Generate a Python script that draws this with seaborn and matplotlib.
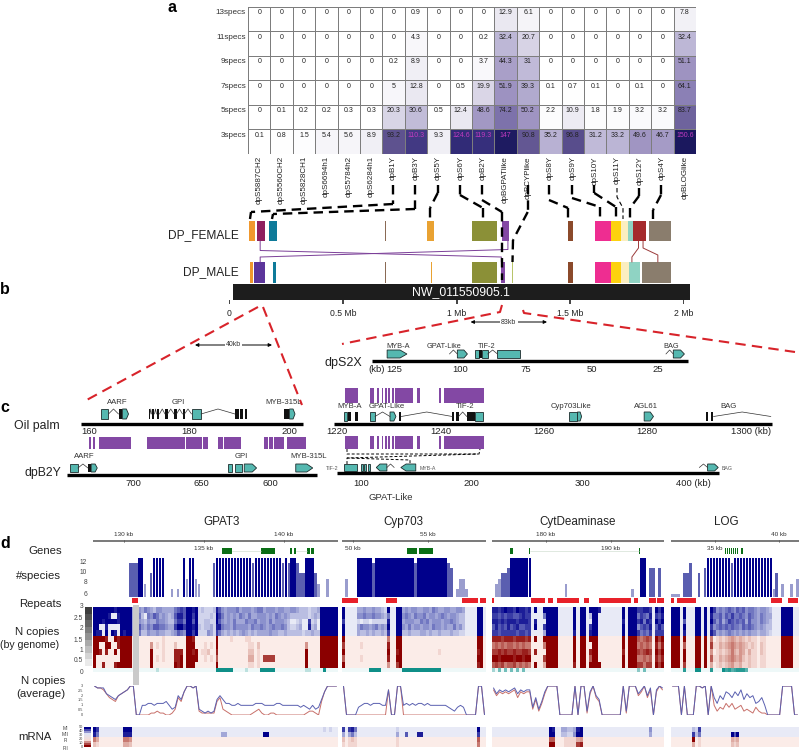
import numpy as np
import pandas as pd
import seaborn as sns
import matplotlib.pyplot as plt
from matplotlib.colors import LinearSegmentedColormap as LSC
from matplotlib.patches import Rectangle, Polygon

W, H = 799, 751
sns.set_theme(style="white")
plt.rcParams['font.family'] = ['Liberation Sans', 'DejaVu Sans']

# panel a
spec_rows = ["13specs", "11specs", "9specs", "7specs", "5specs", "3specs"]
spec_cols = ["dpS5887CH2", "dpS5560CH2", "dpS5828CH1", "dpS6694h1", "dpS5784h2", "dpS6284h1", "dpB1Y", "dpB3Y",
             "dpS5Y", "dpS6Y", "dpB2Y", "dpBGPATlike", "dpBCYPlike", "dpS8Y", "dpS9Y", "dpS10Y", "dpS11Y",
             "dpS12Y", "dpS4Y", "dpBLOGlike"]
specs13 = [0, 0, 0, 0, 0, 0, 0, 0.9, 0, 0, 0, 12.9, 6.1, 0, 0, 0, 0, 0, 0, 7.8]
specs11 = [0, 0, 0, 0, 0, 0, 0, 4.3, 0, 0, 0.2, 32.4, 20.7, 0, 0, 0, 0, 0, 0, 32.4]
specs9 = [0, 0, 0, 0, 0, 0, 0.2, 8.9, 0, 0, 3.7, 44.3, 31, 0, 0, 0, 0, 0, 0, 51.1]
specs7 = [0, 0, 0, 0, 0, 0, 5, 12.8, 0, 0.5, 19.9, 51.9, 39.3, 0.1, 0.7, 0.1, 0, 0.1, 0, 64.1]
specs5 = [0, 0.1, 0.2, 0.2, 0.3, 0.3, 20.3, 30.6, 0.5, 12.4, 48.6, 74.2, 50.2, 2.2, 10.9, 1.8, 1.9, 3.2, 3.2, 83.7]
specs3 = [0.1, 0.8, 1.5, 5.4, 5.6, 8.9, 93.2, 110.3, 9.3, 124.6, 119.3, 147, 90.8, 35.2, 96.8, 31.2, 33.2, 49.6, 46.7, 150.6]

# panel b, features in Mb
female_bars = [(.086, .115, '#f0982e'), (.125, .160, '#8e1f5f'), (.174, .209, '#0e7a99'), (.687, .692, '#8a6a55'),
               (.870, .899, '#e9a232'), (1.069, 1.178, '#8b9037'), (1.198, 1.229, '#8348a4'), (1.491, 1.513, '#8b4a2b'),
               (1.609, 1.681, '#ee2d91'), (1.681, 1.723, '#fdd20e'), (1.723, 1.755, '#fbeec0'), (1.755, 1.775, '#8fd3c3'),
               (1.777, 1.831, '#a52a2c'), (1.846, 1.945, '#8a7d6d')]
male_bars = [(.092, .104, '#f0982e'), (.112, .160, '#5c359b'), (.194, .207, '#0e7a99'), (.687, .692, '#8a6a55'),
             (.887, .892, '#e9a232'), (1.069, 1.178, '#8b9037'), (1.196, 1.212, '#8348a4'), (1.243, 1.247, '#b8c46a'),
             (1.491, 1.513, '#8b4a2b'), (1.609, 1.681, '#ee2d91'), (1.681, 1.723, '#fdd20e'), (1.723, 1.757, '#fbeec0'),
             (1.757, 1.806, '#8fd3c3'), (1.814, 1.945, '#8a7d6d')]
chrom_ticks = [0, 0.5, 1, 1.5, 2]
chrom_labels = ["0", "0.5 Mb", "1 Mb", "1.5 Mb", "2 Mb"]

# dpS2X, kb
s2x_ticks = [125, 100, 75, 50, 25]
s2x_genes = [(127.6, 120.1, 'pent'), (104, 101, 'intron'), (101, 97.2, 'pent'), (94.5, 92.8, 'box'), (92.8, 91.5, 'exon'),
             (91.5, 89.5, 'box'), (89.5, 85.8, 'intron'), (85.8, 77.1, 'box'), (22, 19.2, 'intron'), (19.2, 15, 'pent')]
s2x_names = [("MYB-A", 123.5), ("GPAT-Like", 106), ("TIF-2", 90), ("BAG", 20)]

# panel c, kb
oil_l_ticks = [160, 180, 200]
oil_r_ticks = [1220, 1240, 1260, 1280]
b2y_l_ticks = [700, 650, 600]
b2y_r_ticks = [100, 200, 300]
oil_l_genes = [(162.3, 163.9, 'box'), (163.9, 165.9, 'intron'), (165.9, 166.6, 'exon'), (166.7, 167.9, 'pent'),
               (171.9, 172.2, 'exon'), (172.2, 172.5, 'intron'), (172.5, 173.1, 'exon'), (173.1, 173.5, 'intron'),
               (173.5, 174.1, 'exon'), (174.1, 175.2, 'intron'), (175.2, 175.7, 'exon'), (175.7, 177, 'intron'),
               (177, 177.5, 'exon'), (177.5, 178.7, 'intron'), (178.7, 179.1, 'exon'), (179.1, 180.5, 'intron'),
               (180.5, 182.4, 'box'), (182.4, 189.2, 'intron'), (189.2, 189.9, 'exon'), (190.2, 190.7, 'exon'),
               (191.1, 191.6, 'exon'), (198.9, 200.1, 'exon'), (200.1, 201.2, 'pent')]
oil_r_genes = [(1221.35, 1222, 'box'), (1222.2, 1222.8, 'exon'), (1223.5, 1224.1, 'exon'), (1226.4, 1227.35, 'box'),
               (1227.35, 1230.25, 'intron'), (1230.25, 1231.4, 'pent'), (1232, 1232.4, 'exon'), (1232.4, 1242.3, 'intron'),
               (1242.3, 1242.7, 'exon'), (1243, 1243.5, 'exon'), (1243.5, 1245.1, 'intron'), (1245.1, 1246.6, 'exon'),
               (1246.6, 1248.3, 'box'), (1264.9, 1266.35, 'box'), (1266.35, 1266.5, 'exon'), (1266.5, 1267.3, 'pent'),
               (1279.4, 1281.2, 'pent'), (1291.3, 1291.8, 'exon'), (1292.3, 1292.8, 'exon'), (1292.8, 1303.9, 'intron'),
               (1303.9, 1304, 'exon')]
b2y_l_genes = [(746.3, 740.2, 'box'), (740.2, 732.9, 'intron'), (732.9, 730.5, 'exon'), (730.5, 726.1, 'pent'),
               (630.5, 627.6, 'box'), (625.6, 620.2, 'box'), (618.8, 609.8, 'pent'), (581.2, 568.8, 'pent')]
b2y_r_genes = [(85, 96.4, 'box'), (100, 101.8, 'box'), (103, 104.8, 'box'), (106, 108.4, 'box'), (123.4, 113.8, 'pent'),
               (123.4, 130, 'intron'), (149.5, 136, 'pent'), (405.7, 413.2, 'intron'), (413.2, 422.8, 'pent')]
oil_l_names = [("AARF", 165.6), ("GPI", 177.8), ("MYB-315L", 199)]
oil_r_names = [("MYB-A", 1222.5), ("GPAT-Like", 1229.7), ("TIF-2", 1244.8), ("Cyp703Like", 1265.3), ("AGL61", 1279.8), ("BAG", 1295.8)]
b2y_l_names = [("AARF", 735.4), ("GPI", 620.7), ("MYB-315L", 572)]
b2y_r_small = [("TIF-2", 73.9), ("MYB-A", 160), ("BAG", 431.2)]
purple_left = [(160, 160.4), (160.73, 161.2), (162.07, 168.47), (171.53, 179.2), (179.4, 182.53), (182.73, 183.8),
               (185.8, 186.87), (187.07, 190.33), (195.07, 195.73), (195.93, 196.73), (197.07, 199.07), (199.53, 203.4)]
purple_right = [(1221.55, 1224.1), (1226.4, 1227.15), (1227.7, 1228.2), (1228.64, 1228.96), (1229.28, 1229.6),
                (1229.9, 1230.25), (1230.57, 1231), (1231.2, 1234.75), (1235.4, 1236.05), (1239.8, 1240.05),
                (1240.7, 1248.4), (1291.3, 1291.45)]

# panel d, one character per bin (hex), spaces only to keep the columns readable
sec_names = ["GPAT3", "Cyp703", "CytDeaminase", "LOG"]
sec_bins = [82, 48, 57, 43]

gpat_species = "000000000000 ccc dd 8 0 a dddd 00 7 0 7 0 d 9 dd 9 8 0000 c ddddddddddddcdddddddddcd c dd c aa ddd a 8 00 9 000"
cyp_species = "0 9 000 dddddcdddddddddddddcdddddddddd cb 0 7997 000"
cyt_species = "0 89 aab ddddddd 00000000000 8 000000000000000000000 7 00 dd 0 bb 0 b 0"
log_species = "666 0 aa c 00 a 0 b ddddddddcddddddddddddd 7 a 0 8 00 8 0 9"

gpat_blue = ["9999999899999 33 43543244333 35676 9989 121112 86 434445344434553444344334432221223 999999",
             "9999980089999 33 52054653432 36886 9979 111121 97 534343543533444343543432222221232 999999",
             "9998999989999 33 43243354432 25775 9969 112211 96 434353335445344353444320012007120 999999",
             "9900800009999 33 64354665543 37997 9989 212231 88 544354444354454345445421123008230 999999",
             "9880909809899 33 52243343322 34654 9979 111431 75 323232343232333343322322222122322 999999"]
gpat_red = ["9999800989999 00 00000000100 00000 9980 000000 90 000100001100000000000000000000000 999999",
            "9900990089999 00 00004010100 02000 9990 001010 90 000000000110200000000000000040000 999999",
            "9980800909999 00 00009000100 08880 9989 011200 80 000000000220100000000000000090000 999999",
            "9000000009999 00 00009010100 08890 9999 001010 60 000000000330107777000000000090000 999999",
            "9008000899999 00 00009000000 09890 9990 000000 90 000000000110100000000000000090000 999999"]
gpat_teal = "0000000000000 00 00000020000 00000 0000 000000 99 999900002000099999000000000022000 090000"
gpat_avg_blue = "feeeba98abcdf f0 05566566675 34a8c ffef 321212 8a 866556555556665555665555554543534 8cffff"
gpat_avg_red = "feedb987abcdf f0 00001121100 1397c ffef 211111 79 321000000012310011000000000012210 7cffff"
gpat_rna = ["9700000000999 00 00000000000 00000 0000 000000 00 000000000000000000000000000000000 010100",
            "8500000000888 00 00000000000 00000 0000 000000 00 330000000000009900000000000000000 000000",
            "5300000000554 00 00000000000 00000 0000 000000 00 000000000000000000000000000000000 000000",
            "2100000000332 00 00000000000 00000 0000 000000 00 000000000000000000000000000000000 000000"]

cyp_blue = ["9 0000 3343343321 9 00 99 343443344354334433443 0000 99 0",
            "9 0000 4454454432 5 00 99 454354453443454344322 0000 99 0",
            "7 0000 1011011111 8 00 99 344433545344434454322 0000 99 0",
            "9 0000 3544345343 9 00 99 435344344354434335342 0000 99 0",
            "9 0000 3223232232 7 00 99 223222332322322232211 0000 99 0"]
cyp_red = ["9 0000 0000000000 5 00 99 000000000000000000000 0000 99 0",
           "7 0000 0100000000 8 00 99 000000000000000000000 0000 99 0",
           "9 0000 0000000000 9 00 89 000000000000100000000 0000 89 0",
           "6 0000 0100000000 8 00 99 000000000000000000000 0000 99 0",
           "9 0000 0000000000 4 00 79 000000000000000000000 0000 89 0"]
cyp_teal = "0 0000 0000999900 0 00 00 999999999999900000000 0000 00 0"
cyp_avg_blue = "f 0000 4566566655 d 00 ff 565656656555555432454 0000 ff 0"
cyp_avg_red = "f 0000 0000000000 d 00 ff 000000000000000000000 0000 ff 0"
cyp_rna = ["7 0785 0000000000 0 00 10 000000000000000000000 0000 90 0",
           "3 0352 0000000000 0 00 30 060008800000000000000 0000 70 0",
           "2 0121 0000000000 0 00 10 000000000000000000000 0000 60 0",
           "1 0111 0000000000 0 00 10 000000000000000000000 0000 50 0"]

cyt_blue = ["8878988798878 0 9 00 99 999 00000 9 0 99 0 9998 0000000 9 0 999 77887 0 979",
            "7767677667877 0 0 00 59 999 00000 9 0 99 0 2990 0000000 9 0 999 57658 0 768",
            "8878788878887 0 8 00 09 999 00000 9 0 99 0 0990 0000000 8 0 999 78587 0 979",
            "6867686786677 0 9 00 79 999 00000 9 0 99 0 7990 0000000 9 0 999 46768 0 686",
            "7767777767767 0 0 00 39 999 00000 8 0 99 0 8990 0000000 9 0 999 75657 0 777"]
cyt_red = ["8887888788878 0 9 00 99 999 00000 9 0 99 0 9990 0000000 9 0 999 65676 0 979",
           "5656566565655 0 0 00 59 999 00000 9 0 99 0 0990 0000000 9 0 999 56565 0 858",
           "7787877877887 0 8 00 09 999 00000 9 0 99 0 8990 0000000 8 0 999 76787 0 979",
           "9989999899899 0 0 00 79 999 00000 9 0 99 0 6990 0000000 9 0 999 55656 0 868",
           "6767566756565 0 9 00 39 999 00000 8 0 99 0 9999 0000000 9 0 999 77577 0 979"]
cyt_teal = "3050505050500 0 0 00 00 000 00000 0 0 00 0 0000 0000000 0 0 000 40500 0 000"
cyt_avg_blue = "ebdcdcdebdcdd 4 9 37 cf fff 00000 f 0 ff 2 cfa8 0000000 f 2 fff bdfae 0 dfe"
cyt_avg_red = "dacbcbcd9cbcc 3 8 26 bf fff 00000 f 0 ff 1 bf97 0000000 f 1 fff acf9d 0 cfd"
cyt_rna = ["0000000000000 0 0 00 00 980 03322 3 8 90 0 0000 0000000 0 0 000 00004 0 000",
           "0000000000000 0 0 00 00 990 02211 4 9 90 0 0000 0000000 0 0 000 00003 0 000",
           "0000000000000 0 0 00 00 660 00111 1 3 40 0 0000 0000000 0 0 000 00000 0 000",
           "0000000000000 0 0 00 00 990 00111 1 7 80 0 0000 0000000 0 0 000 00000 0 000"]

log_blue = ["999 0 9 000 9909 0 97 4545654656455434432 000 9999 00",
            "999 0 9 000 9909 0 85 5646575565465435433 000 9999 00",
            "999 0 6 000 9909 0 96 4635765656364435432 000 9999 00",
            "999 0 9 000 9909 0 74 5656565546565434322 000 9999 00",
            "999 0 8 000 9909 0 86 3434543434343323321 000 9999 00"]
log_red = ["999 0 9 000 9909 0 50 1212343232121101100 000 9999 00",
           "999 0 6 000 9909 0 71 1323454343212102100 000 9999 00",
           "999 0 9 000 9909 0 40 1212353243131102100 000 9999 00",
           "999 0 9 000 9909 0 61 1323454342121101100 000 9999 00",
           "999 0 7 000 9909 0 30 1212342231121101100 000 9999 00"]
log_teal = "000 0 8 000 9900 0 80 0097867888600000000 000 0000 00"
log_avg_blue = "fff 0 f 000 ffef 0 f9 6a8cb9cad8b9a679500 000 ffff 00"
log_avg_red = "fff 0 f 000 ffef 0 f5 2436463452321421100 000 ffff 00"
log_rna = ["000 0 0 002 1700 0 00 0000000000000000000 000 0000 00",
           "000 0 0 007 2500 0 00 0000096900000000000 000 0000 00",
           "000 0 0 009 0100 0 00 0000032300000000000 000 0000 00",
           "000 0 0 003 0100 0 00 0000021200000000000 000 0000 00"]

sec_species = [gpat_species, cyp_species, cyt_species, log_species]
sec_blue = [gpat_blue, cyp_blue, cyt_blue, log_blue]
sec_red = [gpat_red, cyp_red, cyt_red, log_red]
sec_teal = [gpat_teal, cyp_teal, cyt_teal, log_teal]
sec_avg_blue = [gpat_avg_blue, cyp_avg_blue, cyt_avg_blue, log_avg_blue]
sec_avg_red = [gpat_avg_red, cyp_avg_red, cyt_avg_red, log_avg_red]
sec_rna = [gpat_rna, cyp_rna, cyt_rna, log_rna]

# in bin units
sec_repeats = [[(13, 15)],
               [(0, 5.4), (14.6, 18.4), (40.1, 45.2), (46, 48)],
               [(0, 0.6), (13, 17.7), (18.6, 20.1), (21.6, 28.9), (30.4, 32.2), (35.4, 46), (47.1, 48.4), (52.1, 54.3), (54.7, 57)],
               [(0, 1), (1.9, 8.3), (33.6, 37.2), (39.3, 42.7)]]
sec_genes = [[(43.3, 46.4), (56.1, 60.9), (65.8, 66.7), (67.2, 68), (71.7, 72.6), (73.1, 73.9)],
             [(21.6, 25.1), (25.8, 30.4)],
             [(6, 7.1), (12.1, 12.7), (48.6, 49.1)],
             [(18, 18.4), (18.7, 19.1), (19.4, 19.8), (20.1, 20.5), (20.8, 21.2), (21.5, 21.9), (22.2, 22.6), (23.6, 24.3)]]
sec_gene_links = [[(46.4, 56.1), (68, 71.7)], [], [(12.7, 48.6)], []]
ruler_kb = [(128.06, 143.375), (49.27, 58.87), (171.7, 198.15), (31.56, 41.56)]
ruler_ticks = [[(130, "130 kb", 0), (135, "135 kb", 1), (140, "140 kb", 0)], [(50, "50 kb", 1), (55, "55 kb", 0)],
               [(180, "180 kb", 0), (190, "190 kb", 1)], [(35, "35 kb", 1), (40, "40 kb", 0)]]
ncopy_ticks = ["3", "2.5", "2", "1.5", "1", "0.5", "0"]
species_ticks = [12, 10, 8, 6]
rna_ticks = ["50", "40", "30", "20", "10", "0"]
rna_samples = ["MI", "MII", "FI", "FII"]
grey_levels = [9, 8, 7, 6, 5, 4, 3, 2, 1, 0]
rna_levels = [9, 7, 5, 3, 1, -1, -3, -5, -7, -9]

fig = plt.figure(figsize=(W / 100, H / 100), dpi=100)


def box(x0, y0, x1, y1):
    ax = fig.add_axes([x0 / W, 1 - y1 / H, (x1 - x0) / W, (y1 - y0) / H])
    ax.patch.set_visible(False)
    return ax


def track(px_a, val_a, px_b, val_b):
    # x in data units, y in picture rows
    ax = box(px_a, 0, px_b, H)
    ax.set_xlim(val_a, val_b)
    ax.set_ylim(H, 0)
    ax.axis('off')
    return ax


def span(ax, a, b, y0, y1, color, **kw):
    ax.add_patch(Rectangle((a, y0), b - a, y1 - y0, facecolor=color, edgecolor='none', clip_on=False, **kw))


def gene(ax, a, b, y0, y1, kind):
    teal = '#55b8b0'
    if kind == 'exon':
        span(ax, a, b, y0, y1, '#111111')
    elif kind == 'box':
        ax.add_patch(Rectangle((a, y0), b - a, y1 - y0, fc=teal, ec='#1c2b2b', lw=0.6, clip_on=False))
    elif kind == 'pent':
        sh = a + 0.65 * (b - a)
        ax.add_patch(Polygon([(a, y0), (sh, y0), (b, (y0 + y1) / 2), (sh, y1), (a, y1)], fc=teal, ec='#1c2b2b', lw=0.6, clip_on=False))
    else:
        ax.plot([a, (a + b) / 2, b], [(y0 + y1) / 2, y0, (y0 + y1) / 2], color='#333333', lw=0.5, clip_on=False)


def hexrow(s, n):
    s = s.replace(' ', '')
    return [int(c, 16) for c in s.ljust(n, '0')[:n]]


# ---- a
cells = pd.DataFrame([specs13, specs11, specs9, specs7, specs5, specs3], index=spec_rows, columns=spec_cols)
purple_map = LSC.from_list("spec", [(0, '#ffffff'), (13 / 151, '#e9e7f0'), (32 / 151, '#bdb7d6'), (52 / 151, '#9c91c0'),
                                    (74 / 151, '#7d72ab'), (93 / 151, '#5f538f'), (115 / 151, '#3a3280'), (1, '#1b185e')])
ax = box(248, 6.5, 696, 154)
sns.heatmap(cells, ax=ax, cmap=purple_map, vmin=0, vmax=151, cbar=False, annot=True, fmt='g', linewidths=0.6, linecolor='#7d7d7d',
            annot_kws={'fontsize': 5, 'color': '#222222'})
for t, v in zip(ax.texts, cells.values.ravel()):
    t.set_y(t.get_position()[1] - 0.25)
    if v >= 110:
        t.set_color('#c23ac0')
ax.set_xlabel('')
ax.set_ylabel('')
ax.set_yticks(np.arange(6) + 0.25, spec_rows, rotation=0, fontsize=5.9, color='#333333')
ax.set_xticks(np.arange(20) + 0.5, spec_cols, rotation=90, fontsize=5.8, color='#222222')
ax.tick_params(length=0, pad=1.5)

# ---- b
mb = track(229, 0, 684, 2)
span(mb, 0.016, 2.026, 284, 300, '#1d1d1d')
for a, b, c in female_bars:
    span(mb, a, b, 221, 241, c)
for a, b, c in male_bars:
    span(mb, a, b, 262, 283, c)
mb.vlines(chrom_ticks, 300, 304, color='#222222', lw=1.2)
for v, s in zip(chrom_ticks, chrom_labels):
    mb.text(v, 313, s, fontsize=6.2, ha='center', va='center', color='#222222', clip_on=False)
mb.text(1.02, 292, "NW_011550905.1", color='white', fontsize=8.8, ha='center', va='center')
mb.plot([.137, .137, 1.197, 1.197], [241, 250.5, 257, 262], color='#7b3f98', lw=0.7)
mb.plot([.137, .137, 1.226, 1.226], [262, 257, 249.5, 241], color='#7b3f98', lw=0.7)
mb.plot([1.80, 1.80, 1.771, 1.771], [241, 248, 257, 262], color='#9b3a3a', lw=0.7)
mb.plot([1.82, 1.82, 1.885, 1.885], [241, 248, 255, 262], color='#9b3a3a', lw=0.7)

s2x = track(394, 125, 658, 25)
s2x.plot([133.3, 13.8], [360.7, 360.7], color='black', lw=2.4, solid_capstyle='butt', clip_on=False)
for a, b, k in s2x_genes:
    gene(s2x, a, b, 350, 358, k)
for v in s2x_ticks:
    s2x.text(v, 370, str(v), fontsize=6.8, ha='center', va='center', color='#222222')
for s, v in s2x_names:
    s2x.text(v, 346, s, fontsize=5.3, ha='center', va='center', color='#333333')

# ---- c
oil_l = track(89, 160, 289, 200)
oil_r = track(337, 1220, 750.7, 1300)
b2y_l = track(133, 700, 270, 600)
b2y_r = track(361, 100, 693, 400)
for tr, lo, hi, y in [(oil_l, 158.3, 202.8, 424), (oil_r, 1219.4, 1304.2, 424), (b2y_l, 748.3, 565.9, 475), (b2y_r, 78.4, 423.1, 473)]:
    tr.plot([lo, hi], [y, y], color='black', lw=2.4, solid_capstyle='butt', clip_on=False)
for a, b in purple_left:
    span(oil_l, a, b, 437, 449, '#8348a4')
for a, b in purple_right:
    span(oil_r, a, b, 388, 403, '#8348a4')
    span(oil_r, a, b, 436, 449, '#8348a4')
for a, b, k in oil_l_genes:
    gene(oil_l, a, b, 409, 419, k)
for a, b, k in oil_r_genes:
    gene(oil_r, a, b, 412, 421, k)
for a, b, k in b2y_l_genes:
    gene(b2y_l, a, b, 464, 472, k)
for a, b, k in b2y_r_genes:
    gene(b2y_r, a, b, 464, 471, k)
for tr, ticks, y in [(oil_l, oil_l_ticks, 432), (oil_r, oil_r_ticks, 432), (b2y_l, b2y_l_ticks, 484), (b2y_r, b2y_r_ticks, 484)]:
    for v in ticks:
        tr.text(v, y, str(v), fontsize=6.8, ha='center', va='center', color='#222222', clip_on=False)
oil_r.text(1300, 432, "1300 (kb)", fontsize=6.8, ha='center', va='center', color='#222222')
b2y_r.text(400, 484, "400 (kb)", fontsize=6.8, ha='center', va='center', color='#222222')
for tr, names, y in [(oil_l, oil_l_names, 402), (oil_r, oil_r_names, 407), (b2y_l, b2y_l_names, 457)]:
    for s, v in names:
        tr.text(v, y, s, fontsize=5.6, ha='center', va='center', color='#333333', clip_on=False)
for s, v in b2y_r_small:
    b2y_r.text(v, 469, s, fontsize=3.8, ha='center', va='center', color='#555555', clip_on=False)
b2y_r.text(127, 497, "GPAT-Like", fontsize=6.8, ha='center', va='center', color='#333333')

# ---- d
blue_map = LSC.from_list("b", ['#e8eaf6', '#7f86c8', '#00008b'])
red_map = LSC.from_list("r", ['#fbece8', '#d08a80', '#8b0000'])
teal_map = LSC.from_list("t", ['#eef8f8', '#0f8f88'])
grey_map = LSC.from_list("g", ['#ffffff', '#3c3c3c'])
rna_map = LSC.from_list("rb", ['#8b0000', '#f5dcd6', '#dfe2f3', '#00008b'])
sec_px = [(93, 338), (342, 486), (492, 664), (671, 799)]
titles_x = [222, 403, 578, 726]


def strip(x0, y0, x1, y1, rows, cmap, n, vmax=9):
    a = box(x0, y0, x1, y1)
    sns.heatmap(np.array([hexrow(r, n) for r in rows]), ax=a, cmap=cmap, vmin=0, vmax=vmax, cbar=False,
                xticklabels=False, yticklabels=False, linewidths=0, rasterized=True)
    a.axis('off')


for i, name in enumerate(sec_names):
    x0, x1 = sec_px[i]
    n = sec_bins[i]
    xs = np.arange(n) + 0.5

    ax = track(x0, 0, x1, n)
    for a, b in sec_genes[i]:
        span(ax, a, b, 548, 553.5, '#0a6e16')
    for a, b in sec_gene_links[i]:
        ax.plot([a, b], [551, 551], color='#c8d8c8', lw=0.4)
    for a, b in sec_repeats[i]:
        span(ax, a, b, 598, 602.5, '#e8212a')

    ax = box(x0, 557, x1, 596.5)
    vals = np.array(hexrow(sec_species[i], n))
    cols = ['#00008b' if v >= 13 else '#5a5eb0' if v >= 10 else '#9a9dce' for v in vals]
    ax.bar(xs, vals, width=0.8, color=cols, linewidth=0)
    ax.set_xlim(0, n)
    ax.set_ylim(5.5, 13.2)
    ax.axis('off')

    strip(x0, 607, x1, 636, sec_blue[i], blue_map, n)
    strip(x0, 636, x1, 668.3, sec_red[i], red_map, n)
    strip(x0, 668.3, x1, 672.3, [sec_teal[i]], teal_map, n)

    ax = box(x0, 686, x1, 715)
    avg = pd.DataFrame({'pos': xs, 'blue': np.array(hexrow(sec_avg_blue[i], n)) * 0.2, 'red': np.array(hexrow(sec_avg_red[i], n)) * 0.2})
    sns.lineplot(data=avg, x='pos', y='red', ax=ax, color='#c8706a', lw=0.7, legend=False)
    sns.lineplot(data=avg, x='pos', y='blue', ax=ax, color='#5a60b0', lw=0.7, legend=False)
    ax.set_xlim(0, n)
    ax.set_ylim(0, 3)
    ax.axis('off')

    strip(x0, 727, x1, 737, sec_rna[i][:2], blue_map, n)
    strip(x0, 737, x1, 747, sec_rna[i][2:], red_map, n)

    ax = track(x0, ruler_kb[i][0], x1, ruler_kb[i][1])
    ax.plot(ruler_kb[i], [541, 541], color='#555555', lw=1.1)
    for v, s, low in ruler_ticks[i]:
        ax.plot([v, v], [540, 542], color='#555555', lw=0.5)
        ax.text(v, 549 if low else 535, s, fontsize=4.6, ha='center', va='center', color='#333333', clip_on=False)

a = box(85, 607, 91.5, 672)
sns.heatmap(np.array(grey_levels)[:, None], ax=a, cmap=grey_map, cbar=False, xticklabels=False, yticklabels=False)
a.axis('off')
a = box(84, 727, 90.5, 747)
sns.heatmap(np.array(rna_levels)[:, None], ax=a, cmap=rna_map, cbar=False, xticklabels=False, yticklabels=False)
a.axis('off')

# ---- text, connectors, on top of everything
ov = fig.add_axes([0, 0, 1, 1], zorder=10)
ov.set_xlim(0, W)
ov.set_ylim(H, 0)
ov.axis('off')


def label(x, y, s, size, ha='center', color='#222222', **kw):
    ov.text(x, y, s, fontsize=size, ha=ha, va='center', color=color, **kw)


for s, x, y in [("a", 172, 7), ("b", 5, 290), ("c", 5, 408), ("d", 5, 543)]:
    label(x, y, s, 11.5, color='black', fontweight='bold')
label(239, 235, "DP_FEMALE", 8.6, ha='right')
label(239, 272, "DP_MALE", 8.6, ha='right')
label(362, 363, "dpS2X", 9, ha='right')
label(385, 370, "(kb)", 6.8, ha='right')
label(60, 426, "Oil palm", 8.8, ha='right')
label(61, 473, "dpB2Y", 8.8, ha='right')
for i, name in enumerate(sec_names):
    label(titles_x[i], 522, name, 8.4)
for s, x, y in [("Genes", 62, 551), ("#species", 61, 576), ("Repeats", 62, 604), ("N copies", 59, 632),
                ("N copies", 65, 681), ("(average)", 65, 694), ("mRNA", 52, 737)]:
    label(x, y, s, 8.2, ha='right')
label(59, 645, "(by genome)", 7.6, ha='right')
for v, y in zip(species_ticks, [562, 572, 583, 594]):
    label(87, y, str(v), 4.8, ha='right', color='#444444')
for s, y in zip(ncopy_ticks, [607, 618, 628, 640, 651, 661, 672]):
    label(83, y, s, 4.8, ha='right', color='#444444')
for s, y in zip(ncopy_ticks, [686, 691, 696, 700, 705, 710, 715]):
    label(83, y, s, 2.8, ha='right', color='#444444')
for s, y in zip(rna_ticks, [727, 731, 735, 739, 743, 747]):
    label(83, y, s, 2.8, ha='right', color='#444444')
for s, y in zip(rna_samples, [728, 735, 741, 748]):
    label(68, y, s, 3.6, ha='right', color='#444444')

ov.add_patch(Rectangle((132.5, 605), 6, 80, fc='#cacaca', ec='none'))

dash = (0, (4, 2.5))
black_links = [[(393, 185), (393, 204), (251, 212), (250, 219)], [(415, 185), (415, 209), (273, 214), (272, 219)],
               [(437.7, 185), (437.7, 193), (430, 208), (430, 219)], [(460, 185), (460, 195), (483, 208), (483, 219)],
               [(482, 185), (482, 200), (502, 212), (502, 280)], [(527.7, 185), (527.7, 212), (513, 240), (512.5, 262)],
               [(549, 185), (549, 200), (568, 208), (568, 219)], [(572, 185), (572, 198), (600, 207), (600, 219)],
               [(594.3, 185), (594.3, 193), (616, 207), (616, 219)], [(639, 188), (639, 196), (630, 208), (630, 219)],
               [(661, 185), (661, 195), (653, 210), (653, 219)]]
for p in black_links:
    for q0, q1 in zip(p[:-1], p[1:]):
        ov.plot([q0[0], q1[0]], [q0[1], q1[1]], color='black', lw=1.7, ls=dash, zorder=12)
ov.plot(*zip((617, 188), (617, 197), (623, 208), (623, 219)), color='black', lw=0.8, ls=dash)
for p in [[(258, 307), (83, 402)], [(263, 307), (302, 405)], [(502, 305), (500, 312), (342, 344)], [(523, 310), (524, 313), (795, 352)]]:
    ov.plot(*zip(*p), color='#d8232a', lw=1.5, ls=(0, (5, 3)))
for x0, x1, y, s in [(195, 272, 345, "40kb"), (470.6, 547, 322, "83kb")]:
    ov.annotate('', xy=(x0, y), xytext=(x1, y), arrowprops=dict(arrowstyle='<|-|>', lw=0.7, color='black', mutation_scale=5, shrinkA=0, shrinkB=0))
    ov.text((x0 + x1) / 2, y, s, fontsize=5, ha='center', va='center', color='#333333', bbox=dict(fc='white', ec='none', pad=1))
ov.plot([347, 347, 479, 480], [449, 454, 454, 449], color='black', lw=0.7, ls=(0, (3, 2)))
ov.plot([347, 347, 478], [464, 458, 454], color='black', lw=0.7, ls=(0, (3, 2)))
ov.plot([347, 410, 410], [458, 460, 464], color='black', lw=0.7, ls=(0, (3, 2)))

fig.savefig("out.png", dpi=100)
